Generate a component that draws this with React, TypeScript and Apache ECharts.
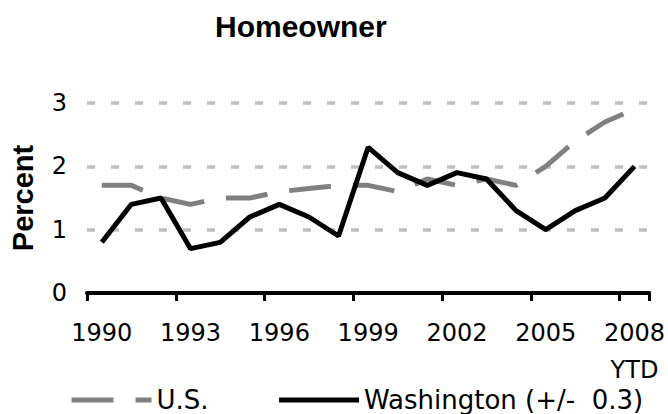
import React, { useEffect, useRef } from "react";
import * as echarts from "echarts";

const categories = [
  "1990", "1991", "1992", "1993", "1994", "1995", "1996", "1997", "1998", "1999",
  "2000", "2001", "2002", "2003", "2004", "2005", "2006", "2007", "2008\nYTD",
];
const usValues = [1.7, 1.7, 1.5, 1.4, 1.5, 1.5, 1.6, 1.65, 1.7, 1.7, 1.6, 1.8, 1.7, 1.8, 1.7, 2.0, 2.4, 2.7, 2.9];
const waValues = [0.8, 1.4, 1.5, 0.7, 0.8, 1.2, 1.4, 1.2, 0.9, 2.3, 1.9, 1.7, 1.9, 1.8, 1.3, 1.0, 1.3, 1.5, 2.0];
const seriesNames = ["U.S.", "Washington (+/-  0.3)"];
const titleText = "Homeowner";
const yName = "Percent";

export default function App() {
  const ref = useRef<HTMLDivElement>(null);
  useEffect(() => {
    if (!ref.current) return;
    const chart = echarts.init(ref.current, undefined, { renderer: "svg" });
    chart.setOption({
      animation: false,
      backgroundColor: "#ffffff",
      title: {
        text: titleText,
        left: 210,
        top: 6,
        textStyle: { fontFamily: "Liberation Sans", fontWeight: "bold", fontSize: 30, color: "#000" },
      },
      legend: {
        left: 64,
        top: 382,
        itemWidth: 80,
        itemHeight: 14,
        itemGap: 68,
        itemStyle: { opacity: 0 },
        lineStyle: { width: 5 },
        textStyle: { fontFamily: "DejaVu Sans", fontSize: 26, color: "#000" },
        data: seriesNames,
      },
      grid: { left: 87, right: 18, top: 103, bottom: 121 },
      xAxis: {
        type: "category",
        data: categories,
        boundaryGap: true,
        axisLine: { lineStyle: { color: "#000", width: 4 } },
        axisTick: { show: true, interval: 2, length: 8, lineStyle: { color: "#000", width: 3 } },
        axisLabel: {
          interval: 2,
          margin: 21,
          fontFamily: "DejaVu Sans",
          fontSize: 24,
          lineHeight: 37,
          color: "#000",
        },
      },
      yAxis: {
        type: "value",
        min: 0,
        max: 3,
        interval: 1,
        name: yName,
        nameLocation: "middle",
        nameGap: 50,
        nameTextStyle: { fontFamily: "Liberation Sans", fontWeight: "bold", fontSize: 29, color: "#000" },
        axisLine: { show: false },
        axisTick: { show: false },
        axisLabel: { margin: 20, fontFamily: "DejaVu Sans", fontSize: 24, color: "#000" },
        splitLine: { lineStyle: { color: "#c0c0c0", width: 3.5, type: [8, 16] } },
      },
      series: [
        {
          name: seriesNames[0],
          type: "line",
          data: usValues,
          symbol: "none",
          lineStyle: { color: "#808080", width: 5, type: [42, 22] },
          itemStyle: { color: "#808080" },
        },
        {
          name: seriesNames[1],
          type: "line",
          data: waValues,
          symbol: "none",
          lineStyle: { color: "#000", width: 5 },
          itemStyle: { color: "#000" },
        },
      ],
    });
    return () => chart.dispose();
  }, []);
  return <div ref={ref} style={{ width: 668, height: 414, position: "absolute", left: 0, top: 0 }} />;
}
